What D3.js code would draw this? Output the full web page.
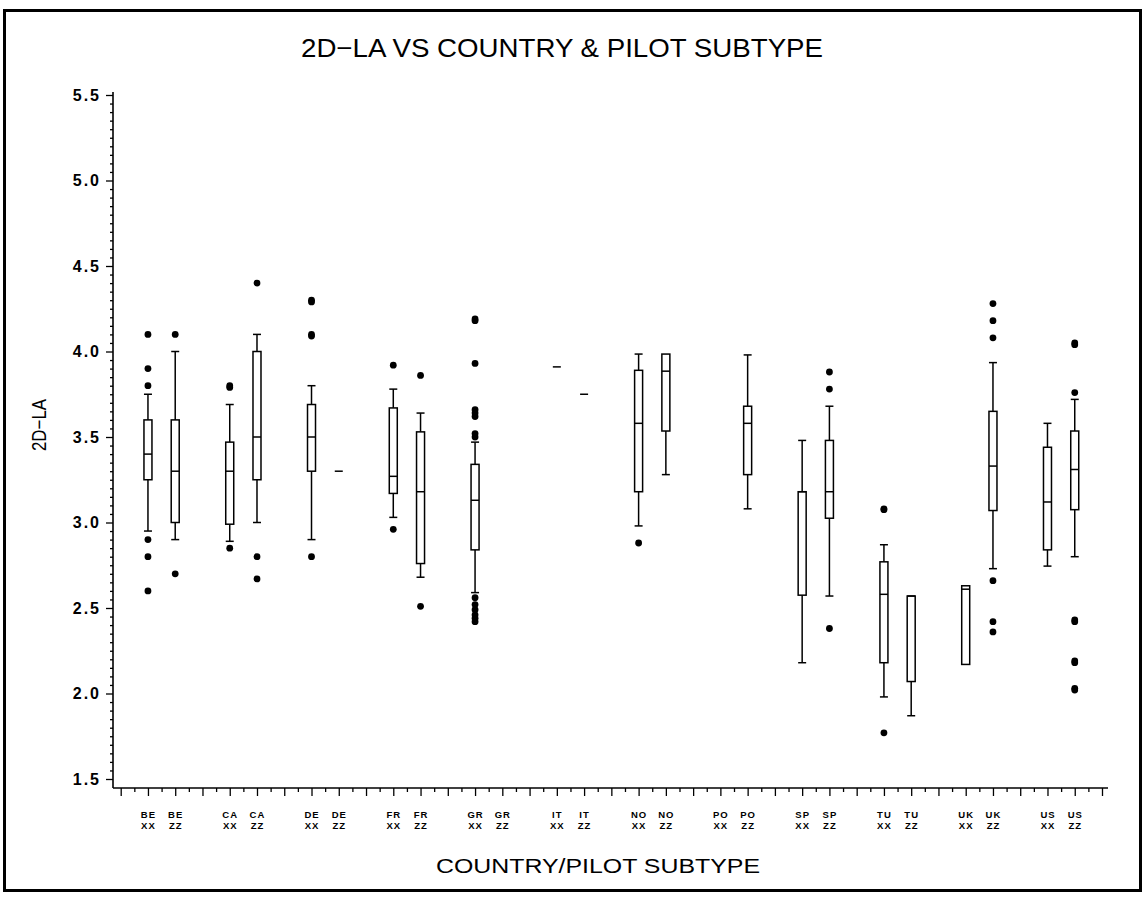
<!DOCTYPE html>
<html>
<head>
<meta charset="utf-8">
<script src="https://cdn.jsdelivr.net/npm/d3@7"></script>
<style>
  html, body { margin: 0; padding: 0; background: #fff; }
  svg { display: block; }
</style>
</head>
<body>
<svg id="chart" width="1145" height="897"></svg>
<script>
// ---------------- data ----------------
const countries = ["BE","CA","DE","FR","GR","IT","NO","PO","SP","TU","UK","US"];
const subtypes  = ["XX","ZZ"];
// groups in order: country x subtype (XX, ZZ)
const whiskerHigh = [3.75,4.00, 3.69,4.10, 3.80,3.30, 3.78,3.64, 3.47,null, 3.91,3.75, 3.985,3.985, null,3.98, 3.48,3.68, 2.87,2.57, 2.63,3.935, 3.58,3.72];
const q3          = [3.60,3.60, 3.47,4.00, 3.69,3.30, 3.67,3.53, 3.34,null, 3.91,3.75, 3.89,3.985,  null,3.68, 3.18,3.48, 2.77,2.57, 2.63,3.65,  3.44,3.535];
const median      = [3.40,3.30, 3.30,3.50, 3.50,3.30, 3.27,3.18, 3.13,null, 3.91,3.75, 3.58,3.885,  null,3.58, 3.18,3.18, 2.58,2.57, 2.61,3.33,  3.12,3.31];
const q1          = [3.25,3.00, 2.99,3.25, 3.30,3.30, 3.17,2.76, 2.84,null, 3.91,3.75, 3.18,3.535,  null,3.28, 2.575,3.025, 2.18,2.07, 2.17,3.07, 2.84,3.075];
const whiskerLow  = [2.95,2.90, 2.89,3.00, 2.90,3.30, 3.03,2.68, 2.59,null, 3.91,3.75, 2.98,3.28,   null,3.08, 2.18,2.57, 1.98,1.87, 2.17,2.73,  2.745,2.80];
const outliers = [
  [4.10,3.90,3.80,2.90,2.80,2.60], [4.10,2.70],
  [3.80,3.79,2.85], [4.40,2.80,2.67],
  [4.30,4.29,4.10,4.09,2.80], [],
  [3.92,2.96], [3.86,2.51],
  [4.19,4.18,3.93,3.66,3.64,3.62,3.52,3.50,2.56,2.52,2.49,2.46,2.44,2.42], [],
  [], [],
  [2.88], [],
  [], [],
  [], [3.88,3.78,2.38],
  [3.08,3.075,1.77], [],
  [], [4.28,4.18,4.08,2.66,2.42,2.36],
  [], [4.05,4.04,3.76,2.43,2.42,2.19,2.18,2.03,2.02]
];
const yMajorTicks = [1.5,2.0,2.5,3.0,3.5,4.0,4.5,5.0,5.5];
const titleText = "2D\u2212LA VS COUNTRY & PILOT SUBTYPE";
const yTitle = "2D\u2212LA";
const xTitle = "COUNTRY/PILOT SUBTYPE";

// ---------------- build ----------------
const groups = [];
countries.forEach((c, ci) => subtypes.forEach((s, si) => {
  const i = ci * 2 + si;
  groups.push({country: c, sub: s, slot: 2 + ci * 6 + si * 2,
    wh: whiskerHigh[i], q3: q3[i], med: median[i], q1: q1[i], wl: whiskerLow[i], out: outliers[i]});
}));

const svg = d3.select("#chart");
const nSlots = 72;
const x = d3.scaleLinear().domain([0, nSlots]).range([120.7, 1102]);
const y = d3.scaleLinear().domain([1.5, 5.5]).range([779, 95]);
const axisX0 = 113, axisY0 = 788, axisXEnd = 1108;

// frame
svg.append("rect").attr("x", 4.5).attr("y", 10.5).attr("width", 1136).attr("height", 880)
  .attr("fill", "none").attr("stroke", "#000").attr("stroke-width", 3);

// title
svg.append("text").attr("x", 562).attr("y", 57).attr("text-anchor", "middle")
  .attr("font-family", "Liberation Sans, Arial, sans-serif").attr("font-size", 26)
  .attr("textLength", 522).attr("lengthAdjust", "spacingAndGlyphs")
  .text(titleText);

// y axis
const yAxisMajor = d3.axisLeft(y).tickValues(yMajorTicks).tickSize(7).tickPadding(7).tickFormat(d3.format(".1f"));
const minorVals = d3.range(30, 111).map(d => d / 20).filter(v => !yMajorTicks.includes(Math.round(v * 100) / 100));
const yAxisMinor = d3.axisLeft(y).tickValues(minorVals).tickSize(3).tickFormat("");
const gy = svg.append("g").attr("transform", `translate(${axisX0},0)`).call(yAxisMajor);
const gy2 = svg.append("g").attr("transform", `translate(${axisX0},0)`).call(yAxisMinor);
[gy, gy2].forEach(g => { g.select(".domain").remove(); g.selectAll("line").attr("stroke", "#000").attr("stroke-width", 1.3); });
gy.selectAll("text").attr("font-family", "Liberation Sans, Arial, sans-serif").attr("font-weight", "bold")
  .attr("font-size", 16).attr("letter-spacing", 2).attr("fill", "#000").attr("dx", 2);
svg.append("line").attr("x1", axisX0).attr("x2", axisX0).attr("y1", 92).attr("y2", axisY0)
  .attr("stroke", "#000").attr("stroke-width", 1.6);

// x axis
const xAxisMajor = d3.axisBottom(x).tickValues(d3.range(0, nSlots + 1, 2)).tickSize(8).tickFormat("");
const xAxisMinor = d3.axisBottom(x).tickValues(d3.range(1, nSlots, 2)).tickSize(4).tickFormat("");
const gx = svg.append("g").attr("transform", `translate(0,${axisY0})`).call(xAxisMajor);
const gx2 = svg.append("g").attr("transform", `translate(0,${axisY0})`).call(xAxisMinor);
[gx, gx2].forEach(g => { g.select(".domain").remove(); g.selectAll("line").attr("stroke", "#000").attr("stroke-width", 1.3); });
svg.append("line").attr("x1", axisX0).attr("x2", axisXEnd).attr("y1", axisY0).attr("y2", axisY0)
  .attr("stroke", "#000").attr("stroke-width", 1.6);

// x category labels
const lab = svg.append("g").attr("font-family", "Liberation Sans, Arial, sans-serif")
  .attr("font-weight", "bold").attr("font-size", 9.5).attr("letter-spacing", 1).attr("text-anchor", "middle");
groups.forEach(g => {
  lab.append("text").attr("x", x(g.slot) + 0.5).attr("y", 818).text(g.country);
  lab.append("text").attr("x", x(g.slot) + 0.5).attr("y", 829).text(g.sub);
});

// axis titles
svg.append("text").attr("x", 598).attr("y", 873).attr("text-anchor", "middle")
  .attr("font-family", "Liberation Sans, Arial, sans-serif").attr("font-size", 20)
  .attr("textLength", 324).attr("lengthAdjust", "spacingAndGlyphs").text(xTitle);
svg.append("text").attr("transform", "translate(46,425) rotate(-90)").attr("text-anchor", "middle")
  .attr("font-family", "Liberation Sans, Arial, sans-serif").attr("font-size", 20)
  .attr("textLength", 52).attr("lengthAdjust", "spacingAndGlyphs").text(yTitle);

// boxes
const bw = 4; // half width
const bx = svg.append("g").attr("stroke", "#000").attr("stroke-width", 1.5).attr("fill", "none");
groups.filter(g => g.med !== null).forEach(g => {
  const cx = x(g.slot);
  // whiskers
  bx.append("line").attr("x1", cx).attr("x2", cx).attr("y1", y(g.wh)).attr("y2", y(g.q3));
  bx.append("line").attr("x1", cx).attr("x2", cx).attr("y1", y(g.q1)).attr("y2", y(g.wl));
  if (g.wh > g.q3) bx.append("line").attr("x1", cx - bw).attr("x2", cx + bw).attr("y1", y(g.wh)).attr("y2", y(g.wh));
  if (g.wl < g.q1) bx.append("line").attr("x1", cx - bw).attr("x2", cx + bw).attr("y1", y(g.wl)).attr("y2", y(g.wl));
  // box
  if (g.q3 > g.q1) {
    bx.append("rect").attr("x", cx - bw).attr("y", y(g.q3)).attr("width", bw * 2)
      .attr("height", y(g.q1) - y(g.q3)).attr("fill", "#fff");
  }
  bx.append("line").attr("x1", cx - bw).attr("x2", cx + bw).attr("y1", y(g.med)).attr("y2", y(g.med));
  // outliers
  g.out.forEach(v => {
    svg.append("circle").attr("cx", cx).attr("cy", y(v)).attr("r", 3.4).attr("fill", "#000");
  });
});
</script>
</body>
</html>
